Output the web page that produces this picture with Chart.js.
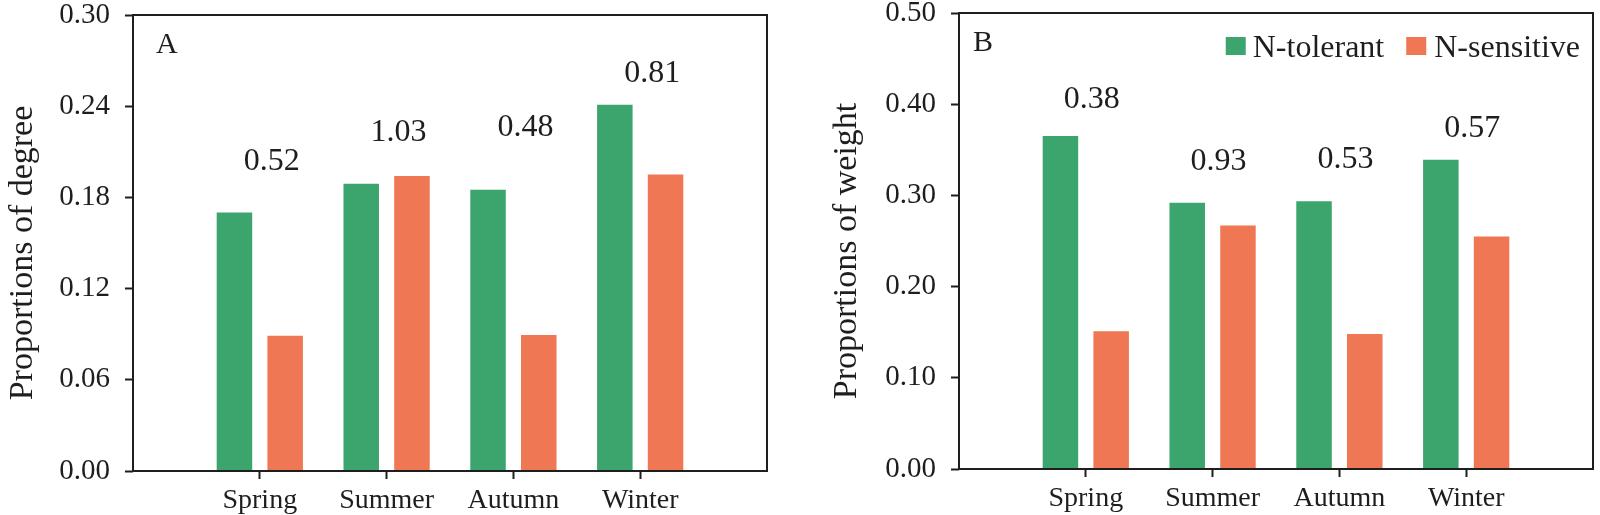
<!DOCTYPE html>
<html>
<head>
<meta charset="utf-8">
<script src="https://cdn.jsdelivr.net/npm/chart.js@4.4.0/dist/chart.umd.min.js"></script>
<style>
  html, body { margin: 0; padding: 0; background: #fff; }
  .panel { position: absolute; top: 0; width: 800px; height: 515px; }
</style>
</head>
<body>
<div class="panel" style="left:0"><canvas id="chartA"></canvas></div>
<div class="panel" style="left:800px"><canvas id="chartB"></canvas></div>
<script>
const seasons = ['Spring', 'Summer', 'Autumn', 'Winter'];

// panel A - proportions of degree
const degreeTolerant = [0.170, 0.189, 0.185, 0.241];
const degreeSensitive = [0.089, 0.194, 0.0895, 0.195];
const degreeRatios = ['0.52', '1.03', '0.48', '0.81'];

// panel B - proportions of weight
const weightTolerant = [0.365, 0.292, 0.2935, 0.339];
const weightSensitive = [0.151, 0.267, 0.148, 0.255];
const weightRatios = ['0.38', '0.93', '0.53', '0.57'];

const GREEN = '#3ca56d';
const ORANGE = '#ef7753';
const INK = '#1e1e1e';
const FONT = "'Liberation Serif', 'Times New Roman', serif";

// an empty slot each side so the four seasons sit at 1..4 on a 0..5 axis
const xLabels = ['', ...seasons, ''];
const padded = arr => [null, ...arr, null];

const panelDecor = {
  id: 'panelDecor',
  afterDatasetsDraw(chart, args, opts) {
    const { ctx, chartArea: a, scales: { x } } = chart;
    ctx.save();

    // box around the plot
    ctx.strokeStyle = INK;
    ctx.lineWidth = 2;
    ctx.strokeRect(a.left, a.top, a.right - a.left, a.bottom - a.top);

    ctx.fillStyle = INK;

    // y axis title (drawn here so it can sit a little below centre like the original)
    ctx.save();
    ctx.font = `34px ${FONT}`;
    ctx.textAlign = 'center';
    ctx.textBaseline = 'middle';
    ctx.translate(opts.titleX, (a.top + a.bottom) / 2 + 10);
    ctx.rotate(-Math.PI / 2);
    ctx.fillText(opts.title, 0, 0);
    ctx.restore();

    ctx.textBaseline = 'alphabetic';

    // panel letter
    ctx.font = `30px ${FONT}`;
    ctx.textAlign = 'left';
    ctx.fillText(opts.letter, a.left + opts.letterX, a.top + 38);

    // ratio above each season
    ctx.font = `32px ${FONT}`;
    ctx.textAlign = 'center';
    opts.ratios.forEach((txt, i) => {
      const idx = i + 1;
      const top = Math.min(...chart.data.datasets.map((d, di) => chart.getDatasetMeta(di).data[idx].y));
      ctx.fillText(txt, x.getPixelForValue(idx) + opts.ratioDx, top - opts.gaps[i] + 11);
    });

    // legend in the top right corner
    if (opts.legend) {
      const ds = chart.data.datasets;
      ctx.font = `32px ${FONT}`;
      ctx.textAlign = 'left';
      const w0 = ctx.measureText(ds[0].label).width;
      const w1 = ctx.measureText(ds[1].label).width;
      const t1 = a.right - 13 - w1;
      const b1 = t1 - 8 - 20;
      const t0 = b1 - 22 - w0;
      const b0 = t0 - 7 - 20;
      const base = a.top + 44;
      ctx.fillStyle = ds[0].backgroundColor;
      ctx.fillRect(b0, a.top + 24, 20, 18);
      ctx.fillStyle = ds[1].backgroundColor;
      ctx.fillRect(b1, a.top + 24, 20, 18);
      ctx.fillStyle = INK;
      ctx.fillText(ds[0].label, t0, base);
      ctx.fillText(ds[1].label, t1, base);
    }
    ctx.restore();
  }
};

function drawPanel(id, tolerant, sensitive, yMax, yStep, lay) {
  return new Chart(document.getElementById(id), {
    type: 'bar',
    data: {
      labels: xLabels,
      datasets: [
        { label: 'N-tolerant', data: padded(tolerant), backgroundColor: GREEN },
        { label: 'N-sensitive', data: padded(sensitive), backgroundColor: ORANGE }
      ]
    },
    options: {
      responsive: true,
      maintainAspectRatio: false,
      animation: false,
      categoryPercentage: 0.8,
      barPercentage: 0.7,
      layout: { padding: { top: lay.top, right: lay.right, left: 0, bottom: 0 } },
      scales: {
        x: {
          offset: false,
          border: { display: false },
          grid: {
            offset: false,
            drawOnChartArea: false,
            drawTicks: true,
            tickLength: 8,
            tickWidth: 2,
            tickColor: c => (c.index === 0 || c.index === xLabels.length - 1) ? 'rgba(0,0,0,0)' : INK
          },
          ticks: {
            autoSkip: false,
            maxRotation: 0,
            padding: 5,
            color: INK,
            font: { family: FONT, size: 28 }
          },
          afterFit: s => {
            s.height = 515 - lay.bottom;
            s.paddingLeft = 0;
            s.paddingRight = 0;
          }
        },
        y: {
          min: 0,
          max: yMax,
          border: { display: false },
          grid: {
            drawOnChartArea: false,
            drawTicks: true,
            tickLength: 8,
            tickWidth: 2,
            tickColor: INK
          },
          ticks: {
            stepSize: yStep,
            padding: 15,
            color: INK,
            font: { family: FONT, size: 29, lineHeight: 1 },
            callback: v => v.toFixed(2)
          },
          afterFit: s => {
            s.width = lay.left;
            s.paddingTop = 0;
            s.paddingBottom = 0;
          }
        }
      },
      plugins: {
        legend: { display: false },
        tooltip: { enabled: false },
        panelDecor: lay.decor
      }
    },
    plugins: [panelDecor]
  });
}

drawPanel('chartA', degreeTolerant, degreeSensitive, 0.30, 0.06,
  { left: 133, top: 15, bottom: 471, right: 33,
    decor: { title: 'Proportions of degree', titleX: 23, letter: 'A', letterX: 23,
             ratios: degreeRatios, ratioDx: 12, gaps: [54, 46, 65, 34], legend: false } });

drawPanel('chartB', weightTolerant, weightSensitive, 0.50, 0.10,
  { left: 159, top: 13, bottom: 469, right: 7,
    decor: { title: 'Proportions of weight', titleX: 47, letter: 'B', letterX: 14,
             ratios: weightRatios, ratioDx: 6, gaps: [39, 44, 44, 34], legend: true } });
</script>
</body>
</html>
